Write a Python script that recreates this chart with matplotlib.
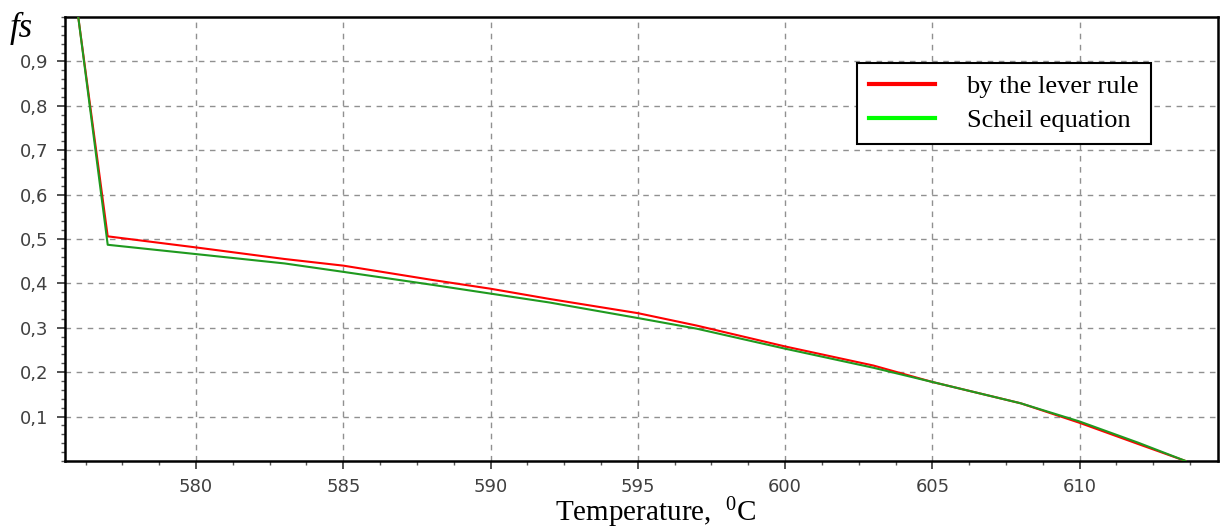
import matplotlib
matplotlib.use("Agg")
import matplotlib.pyplot as plt
from matplotlib.ticker import FixedLocator, MultipleLocator, FuncFormatter

# solid fraction vs temperature
temp_lever = [576.0, 577.0, 580, 583, 585, 588, 590, 592, 595, 597, 600, 603, 605, 608, 610, 612, 613.6]
fs_lever = [1.0, 0.506, 0.481, 0.455, 0.440, 0.408, 0.388, 0.365, 0.333, 0.305, 0.258, 0.215, 0.178, 0.130, 0.086, 0.038, 0.0]

temp_scheil = [576.0, 577.0, 580, 583, 585, 588, 590, 592, 595, 597, 600, 603, 605, 608, 610, 612, 613.6]
fs_scheil = [1.0, 0.487, 0.466, 0.445, 0.426, 0.397, 0.377, 0.357, 0.322, 0.298, 0.253, 0.210, 0.178, 0.130, 0.089, 0.041, 0.0]

x_ticks = [580, 585, 590, 595, 600, 605, 610]
y_ticks = [0.1, 0.2, 0.3, 0.4, 0.5, 0.6, 0.7, 0.8, 0.9]

serif = ["Liberation Serif", "DejaVu Serif"]
plt.rcParams["mathtext.fontset"] = "custom"
plt.rcParams["mathtext.rm"] = "Liberation Serif"
plt.rcParams["mathtext.it"] = "Liberation Serif:italic"

fig = plt.figure(figsize=(12.24, 5.32), dpi=100)
ax = fig.add_axes([65 / 1224, 1 - 461 / 532, (1218 - 65) / 1224, (461 - 17) / 532])

ax.plot(temp_lever, fs_lever, color="#ff0000", lw=1.5, label="by the lever rule", zorder=3)
ax.plot(temp_scheil, fs_scheil, color="#1f9a1f", lw=1.5, label="Scheil equation", zorder=4)

ax.set_xlim(575.55, 614.7)
ax.set_ylim(0, 1.0)

ax.xaxis.set_major_locator(FixedLocator(x_ticks))
ax.xaxis.set_minor_locator(MultipleLocator(1.25))
ax.yaxis.set_major_locator(FixedLocator(y_ticks))
ax.yaxis.set_minor_locator(MultipleLocator(0.02))
ax.yaxis.set_major_formatter(FuncFormatter(lambda v, p: f"{v:.1f}".replace(".", ",")))

ax.tick_params(which="major", direction="out", length=6, width=1.2, color="#333333",
               labelsize=13, labelcolor="#404040", pad=6)
ax.tick_params(which="minor", direction="out", length=3, width=1, color="#555555")

ax.grid(True, which="major", color="#909090", linestyle=(0, (4, 4)), linewidth=1)

for side in ["left", "bottom", "top", "right"]:
    ax.spines[side].set_linewidth(1.8)
    ax.spines[side].set_color("black")

leg = ax.legend(loc="upper left", bbox_to_anchor=(857 / 1224, 1 - 63 / 532),
                bbox_transform=fig.transFigure, borderaxespad=0,
                prop={"family": serif, "size": 19}, frameon=True, fancybox=False,
                handlelength=2.5, handletextpad=1.2, borderpad=0.45, labelspacing=0.4,
                columnspacing=1.0)
leg.get_frame().set_edgecolor("black")
leg.get_frame().set_linewidth(1.5)
leg.get_frame().set_alpha(1)
for line in leg.get_lines():
    line.set_linewidth(3)
leg.get_lines()[1].set_color("#00ff00")

fig.text(0.008, 0.978, "fs", family=serif, style="italic", fontsize=25, va="top")
fig.text(656 / 1224, 0.003, "Temperature,  $^{0}$C", family=serif, fontsize=21,
         ha="center", va="bottom")

plt.savefig("out.png", dpi=100)
